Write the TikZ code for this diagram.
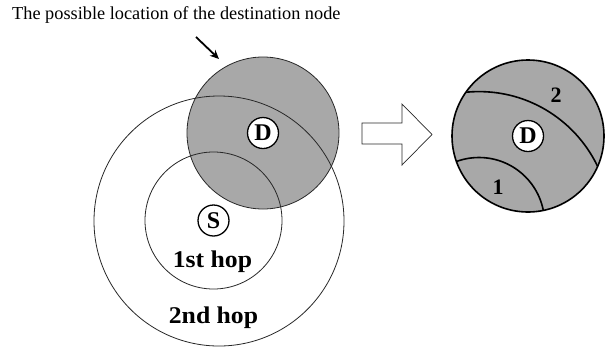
\documentclass[tikz,border=0pt]{standalone}
\usepackage{fontspec}
\usepackage{graphicx}
\setmainfont{Liberation Serif}
\newfontfamily\hopfont[FakeStretch=1.07]{Liberation Serif}
\usetikzlibrary{arrows.meta}
\definecolor{zonegray}{RGB}{168,168,168}
\definecolor{ringline}{RGB}{40,40,40}
\begin{document}
\begin{tikzpicture}[x=1pt,y=-1pt,
  hopring/.style={draw=ringline,line width=0.8pt},
  thickring/.style={draw=black,line width=1.6pt},
  endpoint/.style={circle,draw=black,line width=1.3pt,fill=white,inner sep=0pt,
    minimum size=31pt,font=\bfseries\fontsize{24}{24}\selectfont},
  hoplabel/.style={inner sep=0pt,font=\hopfont\bfseries\fontsize{24}{24}\selectfont},
  ringnum/.style={inner sep=0pt,font=\bfseries\fontsize{22}{22}\selectfont},
  titletext/.style={inner sep=0pt,anchor=base west,font=\fontsize{18.3}{18.3}\selectfont},
  hollowarrow/.style={draw=ringline,line width=0.7pt,fill=white}]
\useasboundingbox (0,0) rectangle (610,349);
\fill[white] (0,0) rectangle (610,349);

% centres of the rings
\coordinate (src) at (213.5,220.5);
\coordinate (dst) at (263,133);
\coordinate (dstR) at (528,136);
\coordinate (srcR) at (479,223);

% area where the destination may lie
\fill[zonegray] (dst) circle[radius=76pt];
% hop rings around the source
\draw[hopring] (219,221) circle[radius=125pt];
\draw[hopring] (src) circle[radius=68.5pt];
\draw[hopring] (dst) circle[radius=76pt];

\node[endpoint] (D) at (dst) {D};
\node[endpoint] (S) at (src) {S};
\node[hoplabel,anchor=base] (hop1) at (212.5,267) {1st hop};
\node[hoplabel,anchor=base] (hop2) at (213.5,323) {2nd hop};

% caption with its pointer
\node[titletext] (title) at (12,19) {The possible location of the destination node};
\coordinate (ptrA) at (196,37);
\coordinate (ptrB) at (219,59);
\draw[line width=1.8pt,-{Stealth[length=9pt,width=8pt]}] (ptrA) -- (ptrB);

% hollow block arrow
\draw[hollowarrow] (362,123) -- (402,123) -- (402,104) -- (432,134.5)
  -- (402,165) -- (402,144) -- (362,144) -- cycle;

% destination area split by the hop rings
\fill[zonegray] (dstR) circle[radius=76pt];
\begin{scope}
  \clip (dstR) circle[radius=76pt];
  \draw[thickring] (srcR) circle[radius=65.5pt];
  \draw[thickring] (srcR) circle[radius=131.4pt];
\end{scope}
\draw[thickring] (dstR) circle[radius=76pt];
\node[endpoint] (DR) at (dstR) {D};
\node[ringnum] (n2) at (556,95) {2};
\node[ringnum] (n1) at (498,187) {1};
\end{tikzpicture}
\end{document}
